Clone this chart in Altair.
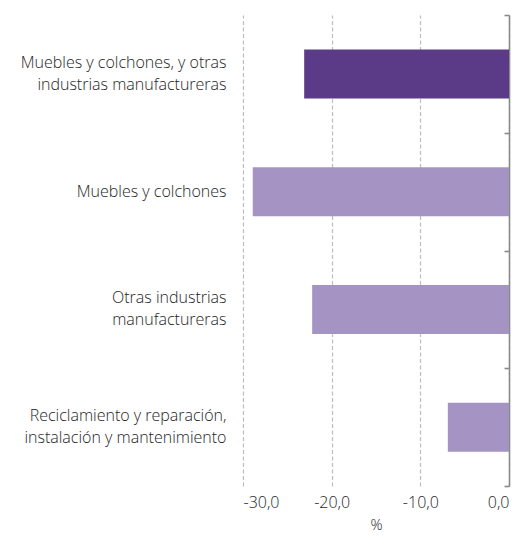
import altair as alt
import pandas as pd

categories = [
    "Muebles y colchones, y otras|industrias manufactureras",
    "Muebles y colchones",
    "Otras industrias|manufactureras",
    "Reciclamiento y reparación,|instalación y mantenimiento",
]
values = [-23.1, -28.9, -22.2, -6.9]
groups = ["total", "rama", "rama", "rama"]
x_ticks = [-30, -20, -10, 0]

df = pd.DataFrame({"cat": categories, "value": values, "group": groups})

W, H = 266, 471
FONT = "Open Sans"
WEIGHT = 300
TXT = "#1e1e1e"

x_enc = alt.X(
    "value:Q",
    scale=alt.Scale(domain=[-30, 0], nice=False, zero=False),
    axis=alt.Axis(
        values=x_ticks,
        labelExpr="replace(replace(format(datum.value, '.1f'), '.', ','), '\u2212', '-')",
        title="%",
        grid=True,
        gridDash=[4, 2.5],
        gridColor="#bdbdbd",
        gridWidth=1.2,
        domain=False,
        ticks=False,
        labelPadding=8,
        labelFontSize=16,
        labelColor=TXT,
        labelFont=FONT,
        labelFontWeight=WEIGHT,
        titleFontSize=15,
        titleFont=FONT,
        titleFontWeight=WEIGHT,
        titleColor=TXT,
        titlePadding=7,
    ),
)

y_scale = alt.Scale(paddingInner=0, paddingOuter=0)

bars = alt.Chart(df).mark_bar(size=49).encode(
    x=x_enc,
    y=alt.Y(
        "cat:N",
        sort=categories,
        scale=y_scale,
        axis=alt.Axis(
            title=None,
            labelExpr="split(datum.label, '|')",
            labelAlign="right",
            labelPadding=17,
            labelFontSize=16,
            labelLineHeight=22,
            labelOffset={
                "condition": {"test": "indexof(datum.value, '|') >= 0", "value": -11},
                "value": 0,
            },
            labelColor=TXT,
            labelFont=FONT,
            labelFontWeight=WEIGHT,
            labelLimit=300,
            domain=False,
            ticks=False,
            grid=False,
        ),
    ),
    color=alt.Color(
        "group:N",
        scale=alt.Scale(domain=["total", "rama"], range=["#5b3a87", "#a593c4"]),
        legend=None,
    ),
)

axis_line = alt.Chart(df).mark_bar(size=49, opacity=0).encode(
    x=x_enc,
    y=alt.Y(
        "cat:N",
        sort=categories,
        scale=y_scale,
        axis=alt.Axis(
            orient="left",
            offset=-W,
            title=None,
            labels=False,
            domain=True,
            domainColor="#8a8a8a",
            domainWidth=1.6,
            ticks=True,
            tickBand="extent",
            tickSize=5,
            tickColor="#8a8a8a",
            tickWidth=1.6,
            grid=False,
        ),
    ),
)

chart = (
    alt.layer(bars, axis_line)
    .resolve_axis(y="independent")
    .properties(
        width=W,
        height=H,
        autosize=alt.AutoSizeParams(type="none"),
        padding={"left": 235, "top": 7, "right": 7, "bottom": 50},
    )
    .configure_view(strokeWidth=0)
)

chart.save("out.html", embed_options={"renderer": "svg", "actions": False})
